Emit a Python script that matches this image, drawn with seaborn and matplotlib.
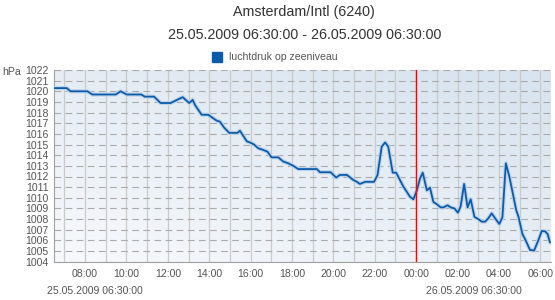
import numpy as np
import pandas as pd
import matplotlib
matplotlib.use("Agg")
import matplotlib.pyplot as plt
import matplotlib.dates as mdates
import seaborn as sns

title = "Amsterdam/Intl (6240)"
subtitle = "25.05.2009 06:30:00 - 26.05.2009 06:30:00"
series_name = "luchtdruk op zeeniveau"
start_label = "25.05.2009 06:30:00"
end_label = "26.05.2009 06:30:00"
unit = "hPa"

# minutes after 25.05.2009 06:30
minutes = [0, 37, 48, 97, 111, 179, 193, 211, 253, 263, 290, 309, 338, 357, 373,
           392, 402, 409, 428, 447, 462, 472, 481, 493, 508, 532, 539, 559, 568,
           580, 592, 602, 619, 626, 631, 650, 665, 679, 694, 708, 762, 771, 802,
           818, 829, 849, 868, 878, 887, 902, 928, 938, 950, 960, 969, 982, 992,
           1012, 1032, 1042, 1052, 1061, 1069, 1081, 1090, 1100, 1110, 1121, 1129,
           1141, 1150, 1161, 1171, 1179, 1189, 1199, 1208, 1219, 1230, 1240, 1250,
           1259, 1269, 1279, 1291, 1300, 1310, 1320, 1329, 1340, 1347, 1358, 1366,
           1380, 1392, 1404, 1414, 1424, 1431, 1438]
pressure = [1020.3, 1020.3, 1020.0, 1020.0, 1019.7, 1019.7, 1020.0, 1019.7, 1019.7,
            1019.5, 1019.5, 1018.9, 1018.9, 1019.2, 1019.45, 1018.9, 1019.2, 1018.7,
            1017.8, 1017.8, 1017.46, 1017.24, 1017.15, 1016.6, 1016.1, 1016.1, 1016.3,
            1015.3, 1015.2, 1015.0, 1014.65, 1014.55, 1014.33, 1014.0, 1013.8, 1013.8,
            1013.4, 1013.24, 1013.0, 1012.7, 1012.7, 1012.4, 1012.4, 1011.9, 1012.15,
            1012.15, 1011.67, 1011.5, 1011.3, 1011.5, 1011.5, 1012.15, 1014.8, 1015.2,
            1014.8, 1012.36, 1012.36, 1011.1, 1010.1, 1009.86, 1010.7, 1011.8, 1012.36,
            1010.7, 1010.95, 1009.6, 1009.4, 1009.1, 1009.1, 1009.3, 1009.1, 1009.0,
            1008.6, 1009.2, 1011.3, 1009.1, 1009.86, 1008.2, 1008.0, 1007.76, 1007.76,
            1008.07, 1008.54, 1008.07, 1007.54, 1008.17, 1013.24, 1012.0, 1010.6,
            1008.85, 1008.17, 1006.6, 1006.1, 1005.1, 1005.05, 1006.0, 1006.88,
            1006.85, 1006.6, 1005.8]

start = pd.Timestamp("2009-05-25 06:30")
end = pd.Timestamp("2009-05-26 06:30")
midnight = pd.Timestamp("2009-05-26 00:00")
df = pd.DataFrame({"time": start + pd.to_timedelta(minutes, unit="m"),
                   "value": pressure})

sns.set_theme(style="white")
plt.rcParams["font.family"] = ["Liberation Sans", "DejaVu Sans"]

fig = plt.figure(figsize=(5.55, 3.0), dpi=100)
ax = fig.add_axes([54 / 555, 1 - 261.7 / 300, 496.7 / 555, (261.7 - 70) / 300])

# gradient background
gx, gy = np.meshgrid(np.linspace(0, 1, 200), np.linspace(0, 1, 200))
g = np.clip(0.5 * gx + 0.6 * gy, 0, 1)
c0 = np.array([0.97, 0.978, 0.988])
c1 = np.array([0.85, 0.895, 0.94])
img = c0[None, None, :] * (1 - g[..., None]) + c1[None, None, :] * g[..., None]
ax.imshow(img, extent=[0, 1, 0, 1], transform=ax.transAxes, origin="lower",
          aspect="auto", zorder=0)

sns.lineplot(data=df, x="time", y="value", ax=ax, color="#c0d3e8", lw=3.0,
             zorder=3, legend=False)
sns.lineplot(data=df, x="time", y="value", ax=ax, color="#0a5cab", lw=1.3,
             zorder=4, legend=False)
ax.axvline(midnight, color="#ff0000", lw=1.0, zorder=5)

ax.set_xlim(start, end)
ax.set_ylim(1004, 1022)
ax.set_yticks(np.arange(1004, 1023, 1))
ax.xaxis.set_major_locator(mdates.HourLocator(byhour=range(0, 24, 2)))
ax.xaxis.set_minor_locator(mdates.HourLocator())
ax.xaxis.set_major_formatter(mdates.DateFormatter("%H:%M"))
ax.grid(False)
ax.grid(axis="y", which="major", color="#ababab", lw=0.8, ls=(0, (6, 4)), zorder=1)
ax.grid(axis="x", which="both", color="#cacaca", lw=0.9, zorder=1)
ax.set_axisbelow(True)
ax.set_xlabel("")
ax.set_ylabel("")

for s in ["top", "right"]:
    ax.spines[s].set_visible(False)
for s in ["left", "bottom"]:
    ax.spines[s].set_color("#a0a0a0")
    ax.spines[s].set_linewidth(0.8)

ax.tick_params(axis="y", which="major", length=3, width=0.7, color="#a0a0a0",
               labelsize=7.6, labelcolor="#555555", pad=1)
ax.tick_params(axis="x", which="both", length=0, labelsize=7.6,
               labelcolor="#555555", pad=5)

fig.text(2 / 555, 1 - 72 / 300, unit, fontsize=7.6, color="#555555",
         ha="left", va="center")
fig.text(304 / 555, 1 - 12 / 300, title, fontsize=10.3, color="#333333",
         ha="center", va="center")
fig.text(305 / 555, 1 - 35 / 300, subtitle, fontsize=10.3, color="#333333",
         ha="center", va="center")
fig.patches.append(plt.Rectangle((212 / 555, 1 - 62 / 300), 10 / 555, 10 / 300,
                                 transform=fig.transFigure, color="#0a5cab",
                                 figure=fig))
fig.text(229 / 555, 1 - 57 / 300, series_name, fontsize=7.6, color="#555555",
         ha="left", va="center")
fig.text(47 / 555, 1 - 291 / 300, start_label, fontsize=7.6, color="#555555",
         ha="left", va="center")
fig.text(522 / 555, 1 - 291 / 300, end_label, fontsize=7.6, color="#555555",
         ha="right", va="center")

fig.savefig("out.png", dpi=100)
